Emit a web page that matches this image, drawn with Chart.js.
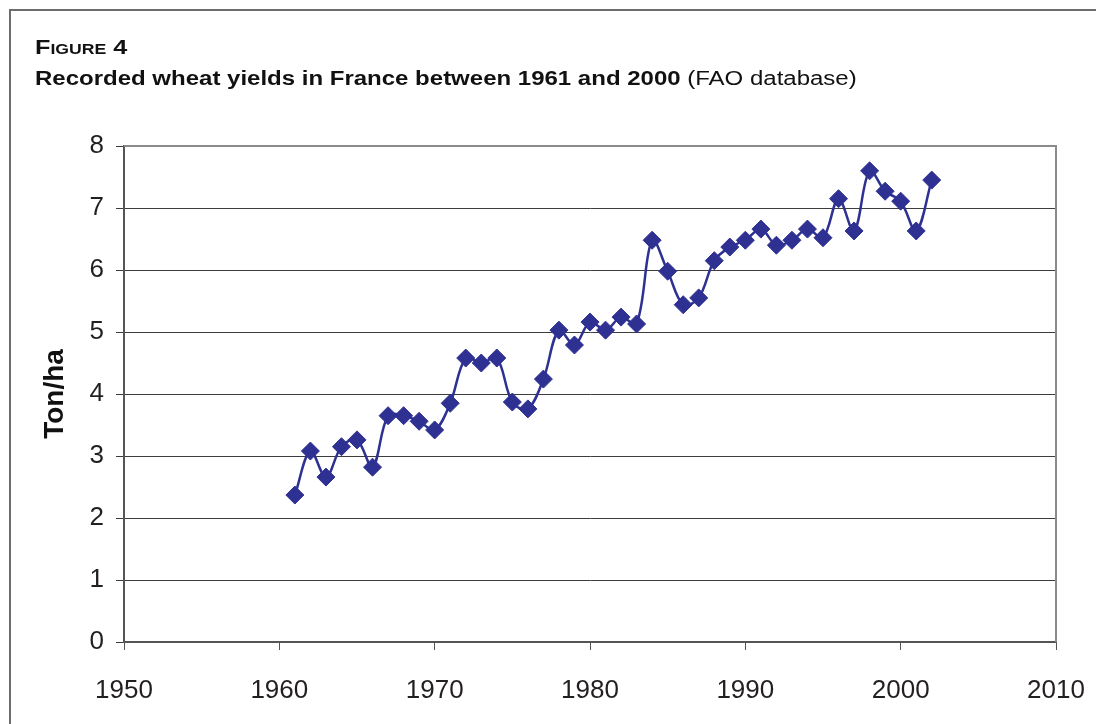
<!DOCTYPE html>
<html>
<head>
<meta charset="utf-8">
<script src="https://cdn.jsdelivr.net/npm/chart.js@4"></script>
<style>
  body { margin: 0; background: #fff; font-family: "Liberation Sans", Arial, sans-serif; }
  #wrap { position: relative; width: 1096px; height: 724px; overflow: hidden; }
  #frame { position: absolute; left: 9px; top: 9px; width: 1200px; height: 800px; border: 2px solid #6d6d6d; pointer-events: none; }
  .cap { position: absolute; left: 35px; font-size: 20px; color: #111; white-space: nowrap;
         transform: scaleX(1.2); transform-origin: left center; }
  #cap1 { top: 36px; font-weight: bold; font-variant: small-caps; transform: scaleX(1.26); }
  #cap2 { top: 67px; }
  canvas { position: absolute; left: 0; top: 0; }
</style>
</head>
<body>
<div id="wrap">
  <canvas id="wheatChart" width="1096" height="724"></canvas>
  <div id="frame"></div>
  <div id="cap1" class="cap">Figure 4</div>
  <div id="cap2" class="cap"><b>Recorded wheat yields in France between 1961 and 2000</b> (FAO database)</div>
</div>
<script>
// yields, t/ha
const years = [1961, 1962, 1963, 1964, 1965, 1966, 1967, 1968, 1969, 1970,
               1971, 1972, 1973, 1974, 1975, 1976, 1977, 1978, 1979, 1980,
               1981, 1982, 1983, 1984, 1985, 1986, 1987, 1988, 1989, 1990,
               1991, 1992, 1993, 1994, 1995, 1996, 1997, 1998, 1999, 2000,
               2001, 2002];
const yields = [2.37, 3.08, 2.66, 3.15, 3.26, 2.82, 3.65, 3.65, 3.56, 3.42,
                3.85, 4.58, 4.50, 4.58, 3.87, 3.76, 4.24, 5.03, 4.79, 5.16,
                5.03, 5.24, 5.13, 6.48, 5.98, 5.44, 5.55, 6.15, 6.37, 6.48,
                6.66, 6.40, 6.48, 6.66, 6.52, 7.15, 6.63, 7.60, 7.27, 7.11,
                6.63, 7.45];
const xTicks = [1950, 1960, 1970, 1980, 1990, 2000, 2010];
const yTicks = [0, 1, 2, 3, 4, 5, 6, 7, 8];

const navy = '#2e3192';

// gray box round the plot area, like the spreadsheet one
const plotBorder = {
    id: 'plotBorder',
    afterDraw: (chart) => {
        const { ctx, chartArea: a } = chart;
        ctx.save();
        ctx.strokeStyle = '#8a8a8a';
        ctx.lineWidth = 2;
        ctx.beginPath();
        ctx.moveTo(a.left, a.top);
        ctx.lineTo(a.right, a.top);
        ctx.lineTo(a.right, a.bottom);
        ctx.stroke();
        ctx.restore();
    }
};

const ctx = document.getElementById('wheatChart');

new Chart(ctx, {
    type: 'line',
    data: {
        datasets: [{
            label: 'Wheat yield',
            data: years.map((yr, i) => ({ x: yr, y: yields[i] })),
            borderColor: navy,
            backgroundColor: navy,
            borderWidth: 2.5,
            tension: 0.35,
            pointStyle: 'rectRot',
            pointRadius: 9,
            pointBorderWidth: 1,
            pointBorderColor: navy,
            pointBackgroundColor: navy,
            fill: false,
        }]
    },
    options: {
        responsive: false,
        animation: false,
        layout: { padding: { left: 0, right: 40, top: 146, bottom: 0 } },
        plugins: {
            legend: { display: false },
            tooltip: { enabled: false },
        },
        scales: {
            x: {
                type: 'linear',
                min: 1950,
                max: 2010,
                afterBuildTicks: (scale) => { scale.ticks = xTicks.map(v => ({ value: v })); },
                afterFit: (scale) => {
                    scale.height = 82;
                    scale.paddingRight = 0;
                    scale.paddingLeft = 0;
                },
                grid: { drawOnChartArea: false, drawTicks: true, tickLength: 8, color: '#555' },
                border: { color: '#555', width: 2 },
                ticks: {
                    padding: 25,
                    color: '#231f20',
                    font: { family: '"Liberation Sans", Arial', size: 26 },
                    callback: (v) => String(v),
                },
            },
            y: {
                min: 0,
                max: 8,
                afterBuildTicks: (scale) => { scale.ticks = yTicks.map(v => ({ value: v })); },
                afterFit: (scale) => { scale.width = 124; },
                grid: { color: '#3c3c3c', lineWidth: 1, tickLength: 8 },
                border: { color: '#555', width: 2 },
                ticks: {
                    padding: 12,
                    color: '#231f20',
                    font: { family: '"Liberation Sans", Arial', size: 26 },
                },
                title: {
                    display: true,
                    text: 'Ton/ha',
                    color: '#111',
                    padding: { top: 38, bottom: 0 },
                    font: { family: '"Liberation Sans", Arial', size: 28, weight: 'bold' },
                },
            },
        },
    },
    plugins: [plotBorder],
});
</script>
</body>
</html>
